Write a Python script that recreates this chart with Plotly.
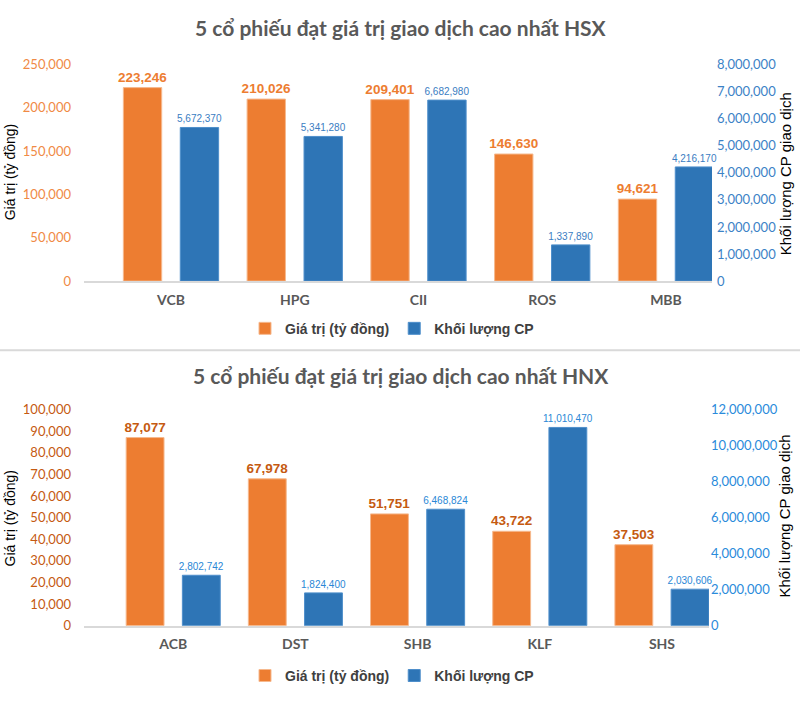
import plotly.graph_objects as go

# ---------------- data ----------------
hsx_codes = ["VCB", "HPG", "CII", "ROS", "MBB"]
hsx_value = [223246, 210026, 209401, 146630, 94621]          # Giá trị (tỷ đồng)
hsx_volume = [5672370, 5341280, 6682980, 1337890, 4216170]   # Khối lượng CP

hnx_codes = ["ACB", "DST", "SHB", "KLF", "SHS"]
hnx_value = [87077, 67978, 51751, 43722, 37503]
hnx_volume = [2802742, 1824400, 6468824, 11010470, 2030606]

name_value = "Giá trị (tỷ đồng)"
name_volume = "Khối lượng CP"
title_hsx = "5 cổ phiếu đạt giá trị giao dịch cao nhất HSX"
title_hnx = "5 cổ phiếu đạt giá trị giao dịch cao nhất HNX"
ytitle_left = "Giá trị (tỷ đồng)"
ytitle_right = "Khối lượng CP giao dịch"

# ---------------- style ----------------
W, H = 800, 724
ORANGE = "#ED7D31"
BLUE = "#2E75B6"
CAL = "Lato, 'Open Sans', sans-serif"
ARIAL = "'Liberation Sans', Arial, sans-serif"


def fx(p):
    return p / W


def fy(p):
    return 1 - p / H


BW = 0.31
OFF_O = -0.385
OFF_B = 0.075

fig = go.Figure()


def add_pair(codes, vals, vols, xa, ya_l, ya_r, lab_o, lab_b, legend):
    fig.add_trace(go.Bar(
        x=codes, y=vals, name=name_value, xaxis=xa, yaxis=ya_l,
        width=BW, offset=OFF_O,
        marker=dict(color=ORANGE, line=dict(color="#F6B98E", width=1)),
        text=[f"{v:,}" for v in vals], textposition="outside", constraintext="none",
        textfont=dict(family=ARIAL, size=13.5, color=lab_o, weight=700),
        cliponaxis=False, legend=legend, showlegend=True,
    ))
    fig.add_trace(go.Bar(
        x=codes, y=vols, name=name_volume, xaxis=xa, yaxis=ya_r,
        width=BW, offset=OFF_B,
        marker=dict(color=BLUE, line=dict(color="#4F8FCB", width=1)),
        text=[f"{v:,}" for v in vols], textposition="outside", constraintext="none",
        textfont=dict(family=ARIAL, size=10, color=lab_b),
        cliponaxis=False, legend=legend, showlegend=True,
    ))


add_pair(hsx_codes, hsx_value, hsx_volume, "x", "y", "y2", ORANGE, "#3A7DC2", "legend")
add_pair(hnx_codes, hnx_value, hnx_volume, "x2", "y3", "y4", "#C55A11", "#2A87D6", "legend2")

xcommon = dict(type="category", showgrid=False, zeroline=False, showline=True,
               linecolor="#D9D9D9", linewidth=1.5, ticks="", ticklabelstandoff=5,
               tickfont=dict(family=CAL, size=14, color="#595959", weight=700),
               fixedrange=True)
ycommon = dict(showgrid=False, zeroline=False, showline=False, ticks="",
               tickformat=",d", fixedrange=True)

fig.update_layout(
    width=W, height=H, margin=dict(l=0, r=0, t=0, b=0),
    paper_bgcolor="white", plot_bgcolor="white",
    barmode="group",
    xaxis=dict(xcommon, domain=[fx(84), fx(712)], range=[-0.703, 4.372], anchor="y"),
    yaxis=dict(ycommon, domain=[fy(279.3), fy(57.7)], range=[0, 250000], dtick=50000,
               anchor="x", ticklabelstandoff=12,
               tickfont=dict(family=CAL, size=13, color="#F08A45")),
    yaxis2=dict(ycommon, overlaying="y", side="right", anchor="x",
                range=[0, 8000000], dtick=1000000, ticklabelstandoff=4,
                tickfont=dict(family=CAL, size=13, color="#3C82C6")),
    xaxis2=dict(xcommon, domain=[fx(84), fx(709)], range=[-0.73, 4.385], anchor="y3"),
    yaxis3=dict(ycommon, domain=[fy(631.7), fy(410.7)], range=[0, 100000], dtick=10000,
                anchor="x2", ticklabelstandoff=12,
                tickfont=dict(family=CAL, size=13, color="#C55A11")),
    yaxis4=dict(ycommon, overlaying="y3", side="right", anchor="x2",
                range=[0, 12000000], dtick=2000000, ticklabelstandoff=1,
                tickfont=dict(family=CAL, size=13, color="#2A8BDB")),
    legend=dict(orientation="h", x=0.49, xanchor="center", y=fy(328), yanchor="middle",
                font=dict(family=ARIAL, size=14, color="#404040", weight=700),
                bgcolor="rgba(0,0,0,0)", itemclick=False, itemdoubleclick=False),
    legend2=dict(orientation="h", x=0.49, xanchor="center", y=fy(683), yanchor="middle",
                 font=dict(family=ARIAL, size=14, color="#404040", weight=700),
                 bgcolor="rgba(0,0,0,0)", itemclick=False, itemdoubleclick=False),
    shapes=[dict(type="line", xref="paper", yref="paper", x0=0, x1=1,
                 y0=fy(350), y1=fy(350), line=dict(color="#D9D9D9", width=2))],
)

annos = []
for t, yc in [(title_hsx, 20), (title_hnx, 376)]:
    annos.append(dict(text=t, xref="paper", yref="paper", x=fx(401), y=fy(yc),
                      xanchor="center", yanchor="middle", showarrow=False,
                      font=dict(family=CAL, size=21, color="#595959", weight=700)))
for yc in [168, 522]:
    annos.append(dict(text=ytitle_left, xref="paper", yref="paper", x=fx(10), y=fy(yc),
                      xanchor="center", yanchor="middle", showarrow=False, textangle=-90,
                      font=dict(family=ARIAL, size=14, color="#000000")))
for yc in [170, 520]:
    annos.append(dict(text=ytitle_right, xref="paper", yref="paper", x=fx(785), y=fy(yc),
                      xanchor="center", yanchor="middle", showarrow=False, textangle=-90,
                      font=dict(family=ARIAL, size=15, color="#000000")))
fig.update_layout(annotations=annos)

fig.write_html(
    "out.html",
    config={"displayModeBar": False},
    post_script="document.body.style.margin='0';document.body.style.overflow='hidden';",
)
